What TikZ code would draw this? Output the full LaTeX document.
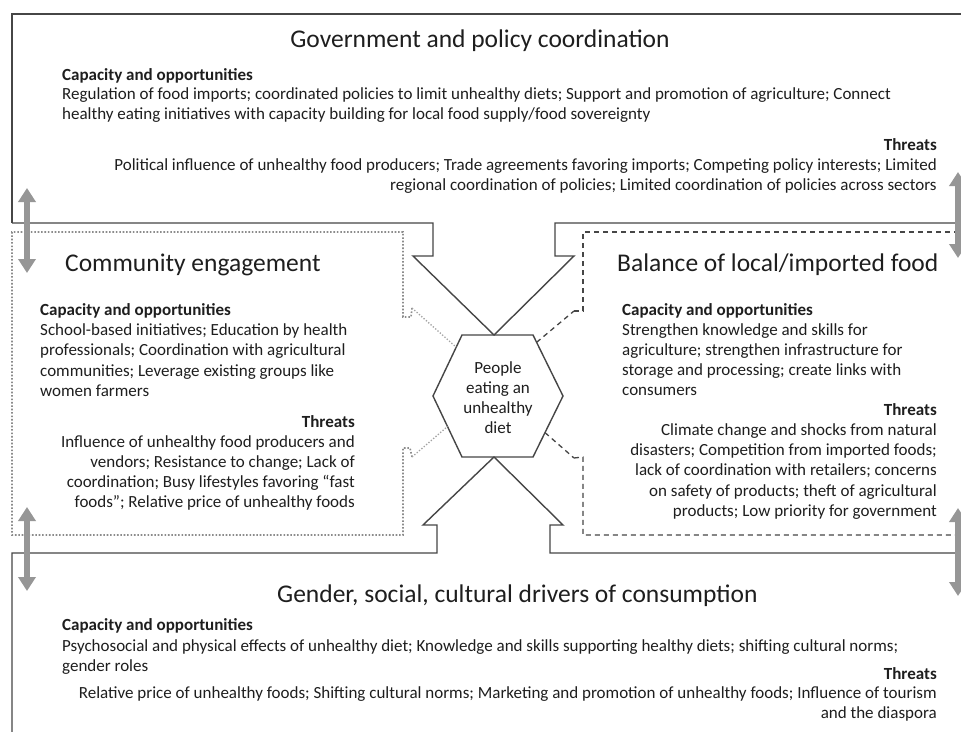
\documentclass[tikz,border=0pt]{standalone}
\usepackage{fontspec}
\setmainfont{Carlito}
\usetikzlibrary{arrows.meta,calc}
\definecolor{ink}{RGB}{30,30,30}
\definecolor{edgec}{RGB}{70,70,70}
\definecolor{dotc}{RGB}{140,140,140}
\definecolor{arrc}{RGB}{150,150,150}
\tikzset{
  body/.style={font=\fontsize{17}{20}\selectfont, text=ink, inner sep=0pt},
  bhead/.style={font=\fontsize{17}{20}\selectfont\bfseries, text=ink, inner sep=0pt},
  ttl/.style={font=\fontsize{25.5}{30}\selectfont, text=ink, inner sep=0pt},
  panel/.style={draw=edgec, line width=1.4pt, line join=miter},
  dotpanel/.style={draw=dotc, line width=1.6pt, dash pattern=on 1.6pt off 1.8pt},
  dotlink/.style={draw=dotc!80, line width=1.3pt, dash pattern=on 1.3pt off 1.8pt},
  dashpanel/.style={draw=edgec, line width=1.3pt, dash pattern=on 5pt off 4pt},
  garrow/.style={draw=arrc, line width=6pt, arrows={Triangle[width=17pt,length=14pt]-Triangle[width=17pt,length=14pt]}},
}
\begin{document}
\begin{tikzpicture}[x=1pt,y=-1pt]
\useasboundingbox (0,0) rectangle (961,731);
\fill[white] (0,0) rectangle (961,731);
\clip (0,0) rectangle (961,731);

% hexagon
\coordinate (hTL) at (462,335);
\coordinate (hTR) at (533,335);
\coordinate (hR) at (563,396);
\coordinate (hBR) at (533,457);
\coordinate (hBL) at (462,457);
\coordinate (hL) at (433,396);
\coordinate (hT) at (494,335);
\coordinate (hB) at (494,457);
\draw[panel] (hTL) -- (hTR) -- (hR) -- (hBR) -- (hBL) -- (hL) -- cycle;
\node[body, align=center] (hex) at (498,398) {People\\eating an\\unhealthy\\diet};

% top panel (government)
\draw[panel] (12,223) -- (12,14) -- (970,14);
\draw[panel] (12,223) -- (433,223) -- (433,256) -- (413,256) -- (hT) -- (574,256) -- (555,256) -- (555,223) -- (970,223);

% bottom panel (gender)
\draw[panel] (12,740) -- (12,553) -- (437,553) -- (437,525) -- (423,525) -- (hB) -- (563,525) -- (550,525) -- (550,553) -- (970,553);

% left panel (community) dotted
\coordinate (ceA) at (412,308);
\coordinate (ceB) at (412,457);
\draw[dotpanel] (ceA) -- (411,317) -- (403,317) -- (403,232) -- (12,232) -- (12,535) -- (403,535) -- (403,448) -- (410,448) -- (ceB);
\draw[dotlink] (ceA) -- ($(hL)!0.8!(hTL)$);
\draw[dotlink] (ceB) -- ($(hL)!0.5!(hBL)$);

% right panel (balance) dashed
\coordinate (blA) at (574,311);
\coordinate (blB) at (574,458);
\draw[dashpanel] (blA) -- (583,311) -- (583,232) -- (970,232);
\draw[dashpanel] (blB) -- (583,457) -- (583,535) -- (970,535);
\draw[dashpanel] ($(hTR)!0.12!(hR)$) -- (blA);
\draw[dashpanel] ($(hR)!0.6!(hBR)$) -- (blB);

% gray double arrows
\coordinate (a1s) at (27,188); \coordinate (a1e) at (27,273);
\coordinate (a2s) at (27,507); \coordinate (a2e) at (27,591);
\coordinate (a3s) at (958,172); \coordinate (a3e) at (958,258);
\coordinate (a4s) at (958,508); \coordinate (a4e) at (958,596);
\draw[garrow] (a1s) -- (a1e);
\draw[garrow] (a2s) -- (a2e);
\draw[garrow] (a3s) -- (a3e);
\draw[garrow] (a4s) -- (a4e);

% ---- texts: government
\node[ttl, anchor=base] (gT) at (480,47) {Government and policy coordination};
\node[bhead, anchor=base west] (gC) at (62,80) {Capacity and opportunities};
\foreach \s [count=\i] in {{Regulation of food imports; coordinated policies to limit unhealthy diets; Support and promotion of agriculture; Connect},
  {healthy eating initiatives with capacity building for local food supply/food sovereignty}}
  \node[body, anchor=base west] (gc\i) at (62,{99+20*(\i-1)}) {\s};
\node[bhead, anchor=base east] (gH) at (937,150) {Threats};
\foreach \s [count=\i] in {{Political influence of unhealthy food producers; Trade agreements favoring imports; Competing policy interests; Limited},
  {regional coordination of policies; Limited coordination of policies across sectors}}
  \node[body, anchor=base east] (gt\i) at (937,{170+20*(\i-1)}) {\s};

% ---- community
\node[ttl, anchor=base west] (cT) at (65,271) {Community engagement};
\node[bhead, anchor=base west] (cC) at (40,315) {Capacity and opportunities};
\foreach \s [count=\i] in {{School-based initiatives; Education by health},
  {professionals; Coordination with agricultural},
  {communities; Leverage existing groups like},
  {women farmers}}
  \node[body, anchor=base west] (cc\i) at (40,{335.5+20.3*(\i-1)}) {\s};
\node[bhead, anchor=base east] (cH) at (355,427) {Threats};
\foreach \s [count=\i] in {{Influence of unhealthy food producers and},
  {vendors; Resistance to change; Lack of},
  {coordination; Busy lifestyles favoring “fast},
  {foods”; Relative price of unhealthy foods}}
  \node[body, anchor=base east] (ct\i) at (355,{447+20.3*(\i-1)}) {\s};

% ---- balance
\node[ttl, anchor=base west] (bT) at (617,271) {Balance of local/imported food};
\node[bhead, anchor=base west] (bC) at (622,315) {Capacity and opportunities};
\foreach \s [count=\i] in {{Strengthen knowledge and skills for},
  {agriculture; strengthen infrastructure for},
  {storage and processing; create links with},
  {consumers}}
  \node[body, anchor=base west] (bc\i) at (622,{335.5+20*(\i-1)}) {\s};
\node[bhead, anchor=base east] (bH) at (937,415) {Threats};
\foreach \s [count=\i] in {{Climate change and shocks from natural},
  {disasters; Competition from imported foods;},
  {lack of coordination with retailers; concerns},
  {on safety of products; theft of agricultural},
  {products; Low priority for government}}
  \node[body, anchor=base east] (bt\i) at (937,{435+20.4*(\i-1)}) {\s};

% ---- gender
\node[ttl, anchor=base west] (sT) at (277,602) {Gender, social, cultural drivers of consumption};
\node[bhead, anchor=base west] (sC) at (62,630) {Capacity and opportunities};
\foreach \s [count=\i] in {{Psychosocial and physical effects of unhealthy diet; Knowledge and skills supporting healthy diets; shifting cultural norms;},
  {gender roles}}
  \node[body, anchor=base west] (sc\i) at (62,{651+20*(\i-1)}) {\s};
\node[bhead, anchor=base east] (sH) at (937,679) {Threats};
\foreach \s [count=\i] in {{Relative price of unhealthy foods; Shifting cultural norms; Marketing and promotion of unhealthy foods; Influence of tourism},
  {and the diaspora}}
  \node[body, anchor=base east] (st\i) at (937,{698+20*(\i-1)}) {\s};
\end{tikzpicture}
\end{document}
